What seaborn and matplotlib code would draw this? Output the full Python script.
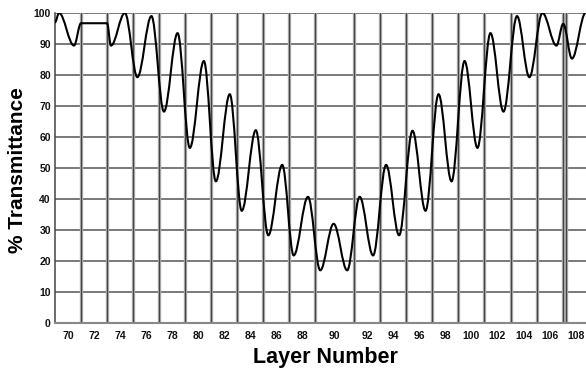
import numpy as np
import matplotlib
matplotlib.use("Agg")
import matplotlib.pyplot as plt
from matplotlib.path import Path
from matplotlib.patches import PathPatch
import seaborn as sns

# turning points of the monitoring curve
# (position along the stack, % transmittance)
turn_x = [69.0, 69.31, 70.46, 71.0, 73.0, 73.30, 74.37, 75.33, 76.41, 77.37,
          78.42, 79.36, 80.44, 81.36, 82.43, 83.35, 84.43, 85.39, 86.46, 87.34,
          88.44, 89.38, 90.41, 91.45, 92.41, 93.44, 94.44, 95.44, 96.47, 97.47,
          98.47, 99.47, 100.47, 101.46, 102.46, 103.46, 104.5, 105.45, 106.45,
          107.53, 108.05, 108.72, 109.77]
turn_t = [97.0, 100.0, 89.5, 96.7, 96.7, 89.5, 100.0, 79.3, 99.0, 68.2,
          93.5, 56.5, 84.5, 45.7, 73.8, 36.2, 62.2, 28.3, 51.0, 21.8,
          40.7, 17.0, 32.0, 17.0, 40.7, 21.8, 51.0, 28.3, 62.0, 36.2,
          73.8, 45.7, 84.5, 56.5, 93.5, 68.2, 99.0, 79.3, 100.0,
          89.5, 96.5, 85.3, 100.0]

# layer boundaries (vertical lines) and the layer labels between them
boundaries = [71, 73, 75, 77, 79, 81, 83, 85, 87, 89, 92, 94, 96, 98, 100,
              102, 104, 106, 108, 108.3]
layer_labels = [70, 72, 74, 76, 78, 80, 82, 84, 86, 88, 90, 92, 94, 96, 98,
                100, 102, 104, 106, 108]
x_min, x_max = 69, 109.8
y_ticks = [0, 10, 20, 30, 40, 50, 60, 70, 80, 90, 100]

sns.set_theme(style="white")
plt.rcParams['font.family'] = ['Liberation Sans', 'DejaVu Sans']
plt.rcParams['text.color'] = 'black'

fig = plt.figure(figsize=(5.86, 3.70), dpi=100)
ax = fig.add_axes([55 / 586, 47 / 370, 531 / 586, 310 / 370])

# horizontal grid
for yv in y_ticks:
    ax.axhline(yv, color='#555555', lw=1.1, zorder=1)

# layer boundaries: grey band with a dark core
for b in boundaries:
    ax.axvline(b, color='#b0b0b0', lw=2.4, zorder=1)
    ax.axvline(b, color='#444444', lw=0.9, zorder=1)

# smooth curve through the turning points (horizontal tangent at each one)
verts = [(turn_x[0], turn_t[0])]
codes = [Path.MOVETO]
for i in range(len(turn_x) - 1):
    x0, y0 = turn_x[i], turn_t[i]
    x1, y1 = turn_x[i + 1], turn_t[i + 1]
    dx = x1 - x0
    if y0 == y1:
        verts.append((x1, y1))
        codes.append(Path.LINETO)
        continue
    verts += [(x0 + 0.36 * dx, y0), (x1 - 0.36 * dx, y1), (x1, y1)]
    codes += [Path.CURVE4] * 3
ax.add_patch(PathPatch(Path(verts, codes), facecolor='none',
                       edgecolor='black', lw=1.5, zorder=3))

# midpoints of the spans carry the layer numbers
edges = [x_min] + boundaries[:-1] + [x_max + 0.2]
mids = [(edges[i] + edges[i + 1]) / 2 for i in range(len(layer_labels))]
mids[-1] = 109.0
ax.set_xticks(mids)
ax.set_xticklabels([str(v) for v in layer_labels], fontsize=7.5,
                   fontweight='semibold', color='#111111')
ax.set_yticks(y_ticks)
ax.set_yticklabels([str(v) for v in y_ticks], fontsize=7.5,
                   fontweight='semibold', color='#111111')
ax.tick_params(axis='x', length=0, pad=6)
ax.tick_params(axis='y', length=0, pad=3)

ax.set_xlim(x_min, x_max)
ax.set_ylim(0, 100)

for side in ['top', 'right']:
    ax.spines[side].set_visible(False)
ax.spines['left'].set_color('#444444')
ax.spines['left'].set_linewidth(1.1)
ax.spines['bottom'].set_color('#888888')
ax.spines['bottom'].set_linewidth(1.5)

fig.text(18 / 586, 1 - 170 / 370, '% Transmittance', rotation=90,
         fontsize=15, fontweight='bold', ha='center', va='center')
fig.text(325 / 586, 1 - 357 / 370, 'Layer Number',
         fontsize=15.5, fontweight='bold', ha='center', va='center')

fig.savefig('out.png', dpi=100)
